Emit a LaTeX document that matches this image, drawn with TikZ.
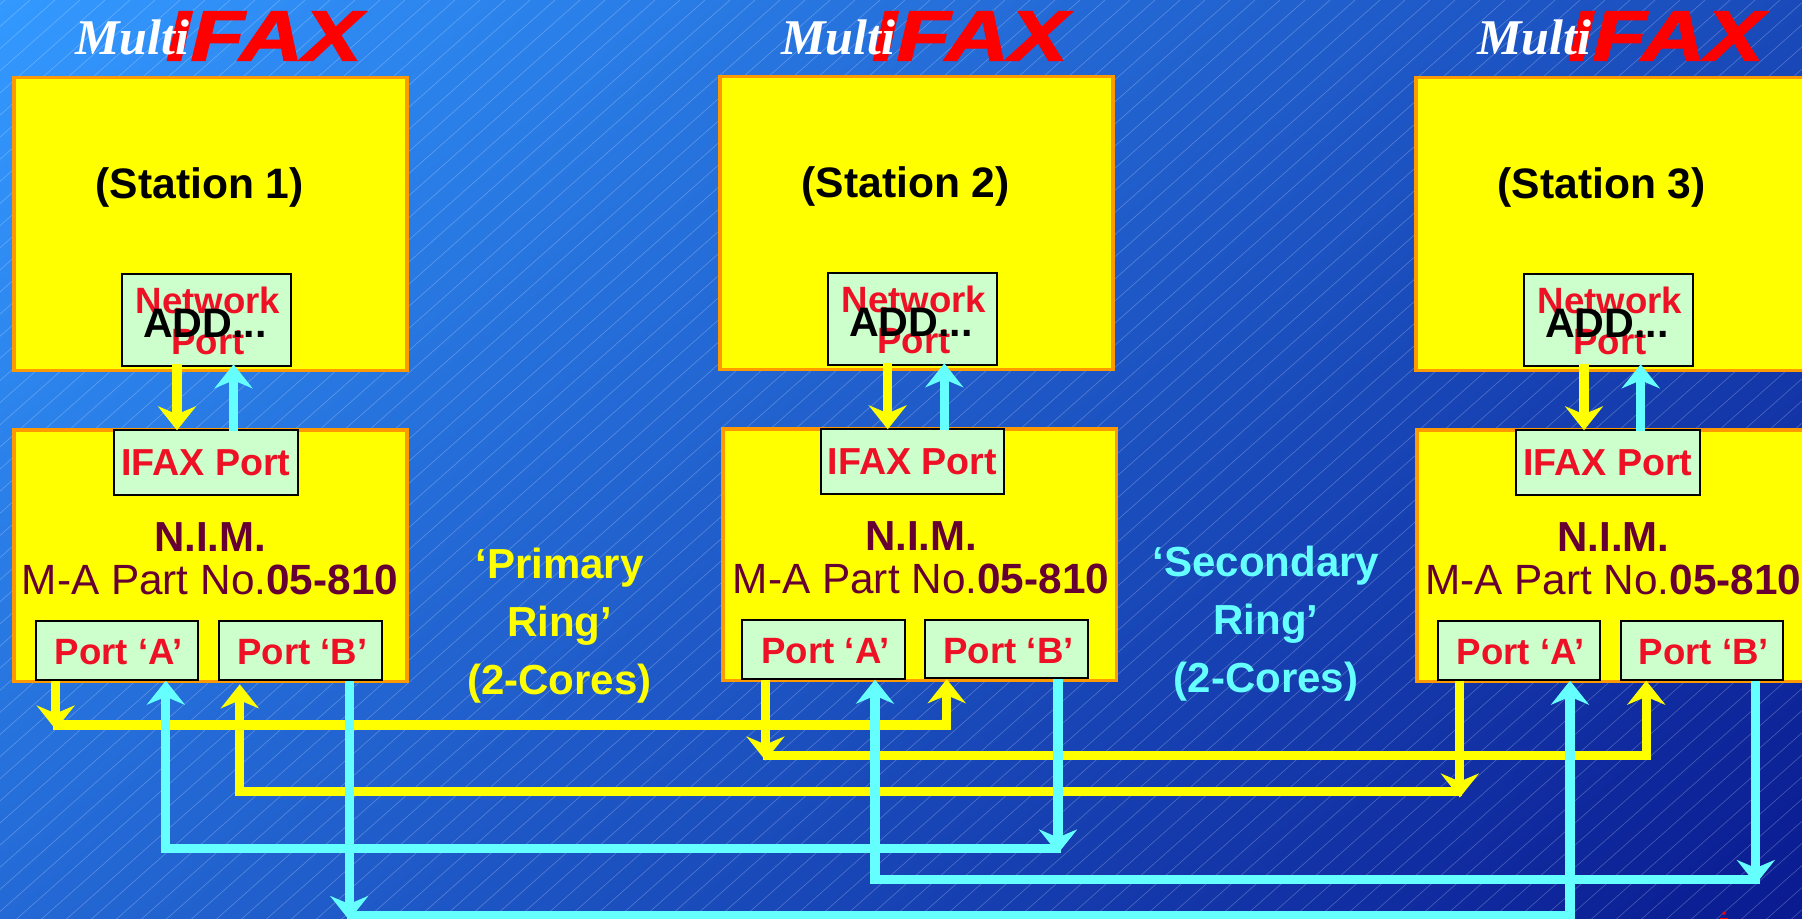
\documentclass[tikz,border=0pt]{standalone}
\usepackage{fontspec}
\setmainfont{Liberation Sans}
\newfontfamily\logofont{Liberation Serif}
\newfontfamily\ifaxfont{Liberation Sans}[BoldItalicFeatures={FakeBold=2}]
\usetikzlibrary{calc,arrows.meta}
\definecolor{skytop}{HTML}{3399FF}
\definecolor{skybot}{HTML}{0A1A90}
\definecolor{rim}{HTML}{FF9900}
\definecolor{sun}{HTML}{FFFF00}
\definecolor{logored}{HTML}{FF0000}
\definecolor{portfill}{HTML}{CCFFCC}
\definecolor{portred}{HTML}{EE1126}
\definecolor{nimtext}{HTML}{660033}
\definecolor{ringcyan}{HTML}{66FFFF}
\tikzset{
  panel/.style={draw=rim,fill=sun,line width=1.75pt,anchor=north west,inner sep=0pt,minimum width=196.6pt},
  portbox/.style={draw=black,fill=portfill,line width=1pt,anchor=north west,inner sep=0pt,
    text=portred,font=\fontsize{18.3}{20.5}\selectfont\bfseries,align=center},
  lowport/.style={portbox,minimum width=81.3pt,minimum height=29.35pt,text height=14.6pt,text depth=0pt},
  label/.style={anchor=base,inner sep=0pt},
  wire/.style={line width=4.6pt,line join=miter},
  yelwire/.style={wire,draw=sun},
  cyawire/.style={wire,draw=ringcyan},
  tipped/.style={-{Stealth[length=12pt,width=19pt,inset=4pt]}},
}
% one station with its N.I.M.: number, x shifts of station, N.I.M., ports, N.I.M. text, y shift
\newcommand{\stationset}[6]{
  \node[label,text=logored,xscale=1.24,font=\ifaxfont\fontsize{35.5}{36}\selectfont\bfseries\itshape] (ifaxlogo#1) at ($(#2,60.5)+(264,0)$) {IFAX};
  \node[label,text=white,font=\logofont\fontsize{25}{25}\selectfont\bfseries\itshape] (multi#1) at ($(#2,55)+(132,0)$) {Multi};
  \node[panel,minimum height=146.25pt] (stat#1) at (12+#2,76+#6) {};
  \node[label,font=\fontsize{21.3}{21}\selectfont\bfseries] (name#1) at (199.7+#2,199+#6) {(Station #1)};
  \node[portbox,minimum width=84.5pt,minimum height=45.75pt] (net#1) at (121+#2,273+#6) {};
  \node[label,text=portred,font=\fontsize{18.3}{20.5}\selectfont\bfseries,align=center] (nettext#1) at (208+#2,354.5+#6) {Network\\Port};
  \node[label,font=\fontsize{20.6}{21}\selectfont\bfseries] (add#1) at (205+#2,337+#6) {ADD...};
  \node[panel,minimum height=125.75pt] (nim#1) at (12+#3,428+#6) {};
  \node[portbox,font=\fontsize{18.8}{20.5}\selectfont\bfseries,minimum width=91.85pt,minimum height=32.35pt,text height=13pt,text depth=0pt] (ifax#1) at (113+#4,429.3+#6) {IFAX Port};
  \node[label,text=nimtext,font=\fontsize{21}{21}\selectfont\bfseries] (nimname#1) at (210+#5,551+#6) {N.I.M.};
  \node[label,text=nimtext,font=\fontsize{21.15}{21}\selectfont] (part#1) at (210+#5,594+#6) {M-A Part No.\textbf{05-810}};
  \node[lowport] (porta#1) at (34.7+#4,620+#6) {\hspace*{2pt}Port ‘A’};
}
\begin{document}
\begin{tikzpicture}[x=.5pt,y=-.5pt]
  \useasboundingbox (0,0) rectangle (1802,919);
  \clip (0,0) rectangle (1802,919);
  \fill[top color=skytop,bottom color=skybot,shading angle=40] (-30,-471.5) rectangle (1832,1390.5);
  % hatching
  \foreach \i in {0,...,130} {
    \draw[white,opacity=.25,line width=.3pt] (-1300+\i*25,1000) -- ++(1130,-1000);
  }
  \foreach \n/\a/\b/\c/\t/\dy in {1/0/0/0/0/0,2/706/709.3/706.6/711/-1,3/1402/1403.3/1402/1403.3/0} {
    \stationset{\n}{\a}{\b}{\c}{\t}{\dy}
  }
  \node[lowport] (portb1) at (218,620) {\hspace*{2pt}Port ‘B’};
  \node[lowport] (portb2) at (924.3,618.5) {\hspace*{2pt}Port ‘B’};
  \node[lowport] (portb3) at (1619.7,620) {\hspace*{2pt}Port ‘B’};
  % ring labels
  \node[label,text=sun,align=center,font=\fontsize{21}{29}\selectfont\bfseries] (prim) at (559.5,694) {‘Primary\\Ring’\\(2-Cores)};
  \node[label,text=ringcyan,align=center,font=\fontsize{21}{29}\selectfont\bfseries] (seco) at (1266,692.7) {‘Secondary\\Ring’\\(2-Cores)};
  % station to N.I.M.
  \foreach \n/\y/\c in {1/177/233.5,2/887.7/944.3,3/1584/1640.7} {
    \draw[yelwire,tipped] ([yshift=1.5pt]net\n.south -| \y,0) -- ([yshift=-.5pt]ifax\n.north -| \y,0);
    \draw[cyawire,tipped] ([yshift=-1pt]ifax\n.north -| \c,0) -- ([yshift=1.1pt]net\n.south -| \c,0);
  }
  % primary ring
  \coordinate (yela) at (55.7,729.5);
  \coordinate (yelb) at (765.5,760.5);
  \coordinate (yelc) at (1459.8,797.5);
  \coordinate (rowa) at (53.3,725);
  \coordinate (rowb) at (763,755.5);
  \coordinate (rowc) at (1462,791.5);
  \draw[yelwire,tipped] (porta1.south -| yela) -- (yela);
  \draw[yelwire,tipped] (rowa) -| (portb2.south -| 946.7,0);
  \draw[yelwire,tipped] (porta2.south -| yelb) -- (yelb);
  \draw[yelwire,tipped] (rowb) -| (portb3.south -| 1646.2,0);
  \draw[yelwire,tipped] (porta3.south -| yelc) -- (yelc);
  \draw[yelwire,tipped] (rowc) -| ([yshift=-1.8pt]portb1.south -| 239.8,0);
  % secondary ring
  \coordinate (cyaa) at (1058,853.5);
  \coordinate (cyab) at (1755.8,884);
  \coordinate (cyac) at (349.2,920);
  \coordinate (rowd) at (1060.7,848.5);
  \coordinate (rowe) at (1760,879.5);
  \coordinate (rowf) at (347,915.5);
  \draw[cyawire,tipped] (portb2.south -| cyaa) -- (cyaa);
  \draw[cyawire,tipped] (rowd) -| (porta1.south -| 165.8,0);
  \draw[cyawire,tipped] (portb3.south -| cyab) -- (cyab);
  \draw[cyawire,tipped] (rowe) -| (porta2.south -| 875,0);
  \draw[cyawire,tipped] (portb1.south -| cyac) -- (cyac);
  \draw[cyawire,tipped] (rowf) -| (porta3.south -| 1570,0);
  % cut-off red marks at the lower edge
  \fill[logored] (1722.5,911.5) rectangle (1725.5,914.5) (1720,918) rectangle (1728,919);
\end{tikzpicture}
\end{document}
